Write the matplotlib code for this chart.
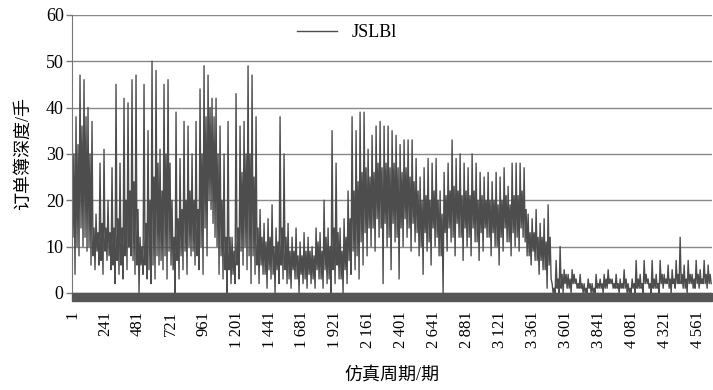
import matplotlib.pyplot as plt
import matplotlib.patches as mpatches
import numpy as np

# order book depth: per ~29 periods a peak, core low, core high, trough
depth = [
    44, 12, 30, 4, 38, 10, 32, 8, 47, 14, 36, 10, 46, 12, 38, 9, 40, 10, 30, 6,
    37, 8, 14, 5, 17, 9, 13, 6, 28, 7, 15, 4, 31, 9, 14, 7, 20, 8, 13, 5,
    27, 6, 14, 2, 45, 7, 16, 4, 28, 6, 14, 3, 42, 8, 20, 5, 41, 10, 22, 8,
    46, 7, 24, 4, 47, 6, 18, 0, 12, 6, 10, 4, 45, 6, 15, 3, 35, 5, 20, 2,
    50, 6, 25, 3, 48, 8, 28, 6, 31, 7, 22, 5, 45, 8, 30, 3, 46, 9, 28, 6,
    20, 5, 12, 0, 39, 7, 16, 3, 29, 8, 18, 5, 37, 9, 20, 4, 36, 10, 22, 8,
    30, 9, 20, 6, 37, 8, 18, 5, 44, 10, 30, 4, 49, 14, 38, 8, 47, 20, 40, 18,
    42, 15, 38, 12, 42, 10, 30, 4, 36, 8, 20, 3, 30, 5, 12, 0, 37, 5, 12, 2,
    12, 4, 9, 2, 43, 6, 14, 3, 36, 9, 26, 6, 37, 10, 30, 5, 49, 8, 30, 2,
    47, 8, 25, 4, 38, 6, 14, 2, 18, 6, 12, 4, 15, 4, 11, 1, 16, 5, 12, 3,
    19, 4, 10, 0, 14, 5, 11, 2, 38, 6, 14, 3, 30, 5, 12, 2, 15, 3, 9, 1,
    12, 5, 9, 3, 14, 3, 8, 0, 11, 4, 8, 2, 13, 3, 9, 1, 12, 4, 9, 2,
    10, 3, 8, 1, 14, 5, 11, 3, 13, 3, 9, 1, 20, 5, 12, 2, 14, 3, 10, 0,
    35, 5, 14, 2, 28, 6, 13, 3, 14, 3, 9, 0, 16, 5, 12, 2, 22, 7, 16, 4,
    38, 9, 22, 5, 35, 8, 24, 3, 39, 11, 26, 6, 39, 13, 27, 8, 31, 14, 25, 10,
    34, 14, 26, 9, 36, 16, 28, 12, 37, 14, 27, 2, 36, 15, 28, 10, 36, 12, 27, 5,
    35, 15, 28, 11, 34, 12, 27, 3, 32, 14, 26, 10, 33, 16, 27, 12, 33, 14, 25, 9,
    33, 15, 24, 11, 29, 13, 22, 8, 25, 10, 20, 4, 27, 13, 21, 9, 29, 11, 20, 6,
    28, 14, 22, 10, 29, 12, 20, 8, 22, 8, 17, 0, 26, 13, 21, 9, 28, 14, 22, 11,
    33, 12, 23, 8, 29, 15, 22, 12, 30, 12, 21, 7, 28, 14, 22, 10, 27, 12, 21, 8,
    30, 14, 22, 11, 28, 11, 20, 7, 26, 13, 21, 9, 25, 14, 20, 12, 26, 12, 20, 8,
    24, 13, 20, 10, 26, 10, 19, 6, 25, 12, 20, 9, 27, 14, 21, 11, 23, 11, 19, 8,
    28, 13, 21, 10, 28, 12, 21, 9, 28, 14, 22, 12, 27, 11, 18, 8, 17, 8, 13, 6,
    16, 9, 13, 7, 18, 7, 12, 4, 15, 7, 12, 5, 16, 5, 11, 1, 19, 6, 12, 3,
    2, 0, 1, 0, 7, 1, 3, 0, 10, 1, 4, 0, 5, 2, 4, 1, 4, 1, 3, 0,
    5, 2, 4, 2, 3, 1, 2, 1, 4, 1, 2, 0, 2, 0, 1, 0, 3, 1, 2, 0,
    2, 0, 1, 0, 4, 1, 2, 1, 3, 1, 2, 0, 4, 1, 3, 1, 5, 2, 3, 2,
    3, 1, 2, 1, 4, 1, 2, 0, 3, 1, 2, 1, 5, 1, 3, 0, 2, 0, 1, 0,
    3, 1, 2, 0, 7, 1, 3, 1, 4, 1, 2, 0, 7, 2, 4, 2, 3, 1, 2, 0,
    7, 1, 3, 1, 4, 1, 2, 0, 7, 2, 4, 1, 4, 2, 3, 2, 6, 1, 3, 0,
    5, 2, 3, 1, 7, 2, 4, 2, 12, 2, 4, 1, 6, 1, 3, 0, 7, 2, 4, 2,
    4, 1, 3, 1, 7, 2, 4, 1, 5, 2, 3, 2, 7, 2, 4, 1, 6, 2, 4, 2,
]
last_period = 4660
tick_periods = [1, 241, 481, 721, 961, 1201, 1441, 1681, 1921, 2161,
                2401, 2641, 2881, 3121, 3361, 3601, 3841, 4081, 4321, 4561]
tick_labels = ['1', '241', '481', '721', '961', '1\u2009201', '1\u2009441', '1\u2009681',
               '1\u2009921', '2\u2009161', '2\u2009401', '2\u2009641', '2\u2009881',
               '3\u2009121', '3\u2009361', '3\u2009601', '3\u2009841', '4\u2009081',
               '4\u2009321', '4\u2009561']
y_ticks = [0, 10, 20, 30, 40, 50, 60]

serif = ['Liberation Serif', 'DejaVu Serif']
cjk = ['Liberation Serif', 'Noto Sans CJK SC', 'DejaVu Serif']
plt.rcParams['font.family'] = serif

periods = np.linspace(1, last_period, len(depth))

fig = plt.figure(figsize=(7.13, 3.9), dpi=100)
ax = fig.add_axes([0.101, 0.249, 0.897, 0.713])

ax.plot(periods, depth, color='#4d4d4d', linewidth=1.0, label='JSLBl')

ax.set_xlim(1, 4663)
ax.set_ylim(0, 60)
ax.set_yticks(y_ticks)
ax.set_yticklabels([str(v) for v in y_ticks], fontsize=13)
ax.set_xticks(tick_periods)
ax.set_xticklabels(tick_labels, rotation=90, fontsize=12)
ax.tick_params(axis='x', length=0, pad=13)
ax.tick_params(axis='y', length=4, width=1, color='#777777', pad=2)

ax.yaxis.grid(True, color='#888888', linewidth=1)
ax.set_axisbelow(True)
for side in ['top', 'right', 'bottom']:
    ax.spines[side].set_visible(False)
ax.spines['left'].set_color('#777777')

# dense category tick marks form a dark band under the zero line
band = mpatches.Rectangle((0, -0.03), 1, 0.03, transform=ax.transAxes,
                          color='#555555', clip_on=False, zorder=3)
ax.add_patch(band)

ax.set_ylabel('订单簿深度/手', family=cjk, fontsize=13, labelpad=10)
ax.set_xlabel('仿真周期/期', family=cjk, fontsize=13, labelpad=14)

ax.legend(loc='upper center', bbox_to_anchor=(0.43, 1.0), frameon=False,
          fontsize=13, handlelength=2.2, borderaxespad=0.1)

plt.savefig('out.png', dpi=100)
plt.close()
